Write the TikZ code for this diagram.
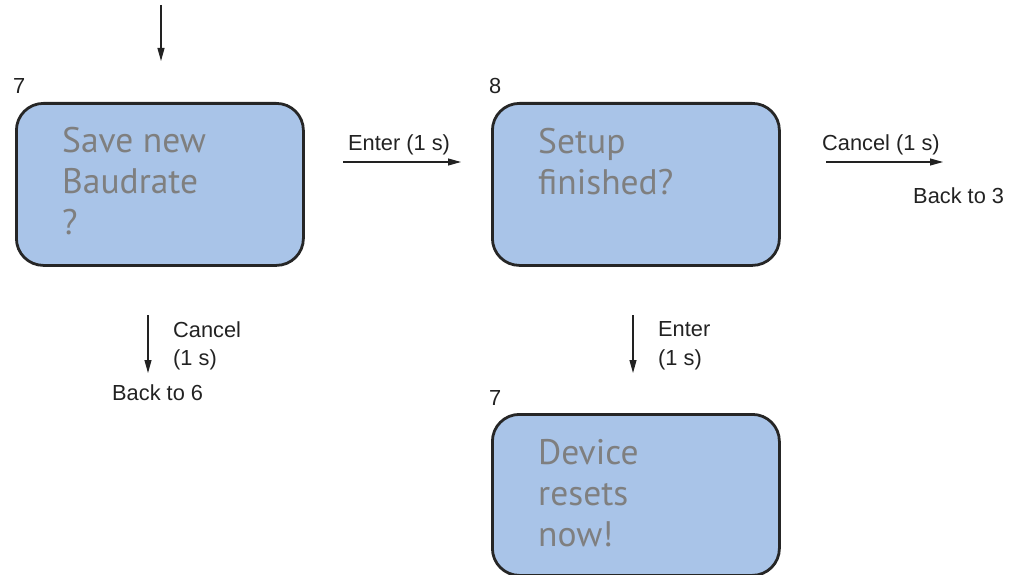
\documentclass[tikz,border=0pt]{standalone}
\usepackage{fontspec}
\setmainfont{Liberation Sans}
\newfontfamily\boxfont{PT Sans}
\usetikzlibrary{arrows.meta}
\definecolor{boxfill}{HTML}{A9C4E8}
\definecolor{boxline}{HTML}{262626}
\definecolor{boxtext}{HTML}{7F7F7F}
\definecolor{labeltext}{HTML}{222222}
\tikzset{
  stepbox/.style={draw=boxline, line width=2.8pt, fill=boxfill, rounded corners=27pt,
    inner sep=0pt, anchor=north west},
  % multi-line labels are placed by the baseline of their last line
  boxlabel/.style={font=\boxfont\fontsize{35.5}{41}\selectfont, text=boxtext, align=left,
    inner sep=0pt, anchor=base west},
  txt/.style={font=\fontsize{21.8}{28}\selectfont, text=labeltext, inner sep=0pt, anchor=base west},
  flow/.style={draw=labeltext, line width=1.1pt, -{Triangle[length=13pt,width=7pt]}},
}
\begin{document}
\begin{tikzpicture}[x=1pt,y=-1pt]
\useasboundingbox (0,0) rectangle (1031,575);

% state boxes
\node[stepbox, minimum width=287pt, minimum height=162pt] (s7) at (15,102) {};
\node[stepbox, minimum width=287pt, minimum height=162pt] (s8) at (491,102) {};
\node[stepbox, minimum width=287pt, minimum height=161pt] (s7b) at (491,413) {};

\node[boxlabel] (t7) at (62,234) {Save new\\Baudrate\\?};
\node[boxlabel] (t8) at (538,194) {Setup\\finished?};
\node[boxlabel] (t7b) at (538,546) {Device\\resets\\now!};

% state numbers
\node[txt] (n7) at (13,94) {7};
\node[txt] (n8) at (489,94) {8};
\node[txt] (n7b) at (489,405) {7};

% connector end points
\coordinate (inA) at (161,5);
\coordinate (inB) at (161,61);
\coordinate (enA) at (343,162);
\coordinate (enB) at (461,162);
\coordinate (caA) at (826,162);
\coordinate (caB) at (943,162);
\coordinate (c6A) at (148,315);
\coordinate (c6B) at (148,373);
\coordinate (e7A) at (633,315);
\coordinate (e7B) at (633,373);

\draw[flow] (inA) -- (inB);
\draw[flow] (enA) -- (enB);
\draw[flow] (caA) -- (caB);
\draw[flow] (c6A) -- (c6B);
\draw[flow] (e7A) -- (e7B);

% transition labels
\node[txt] (lenter) at (348,150) {Enter (1 s)};
\node[txt] (lcancel) at (822,150) {Cancel (1 s)};
\node[txt] (lback3) at (913,204) {Back to 3};
\node[txt] (lc6a) at (173,337) {Cancel};
\node[txt] (lc6b) at (173,365) {(1 s)};
\node[txt] (lback6) at (112,400) {Back to 6};
\node[txt] (le7a) at (658,336) {Enter};
\node[txt] (le7b) at (658,365) {(1 s)};
\end{tikzpicture}
\end{document}
